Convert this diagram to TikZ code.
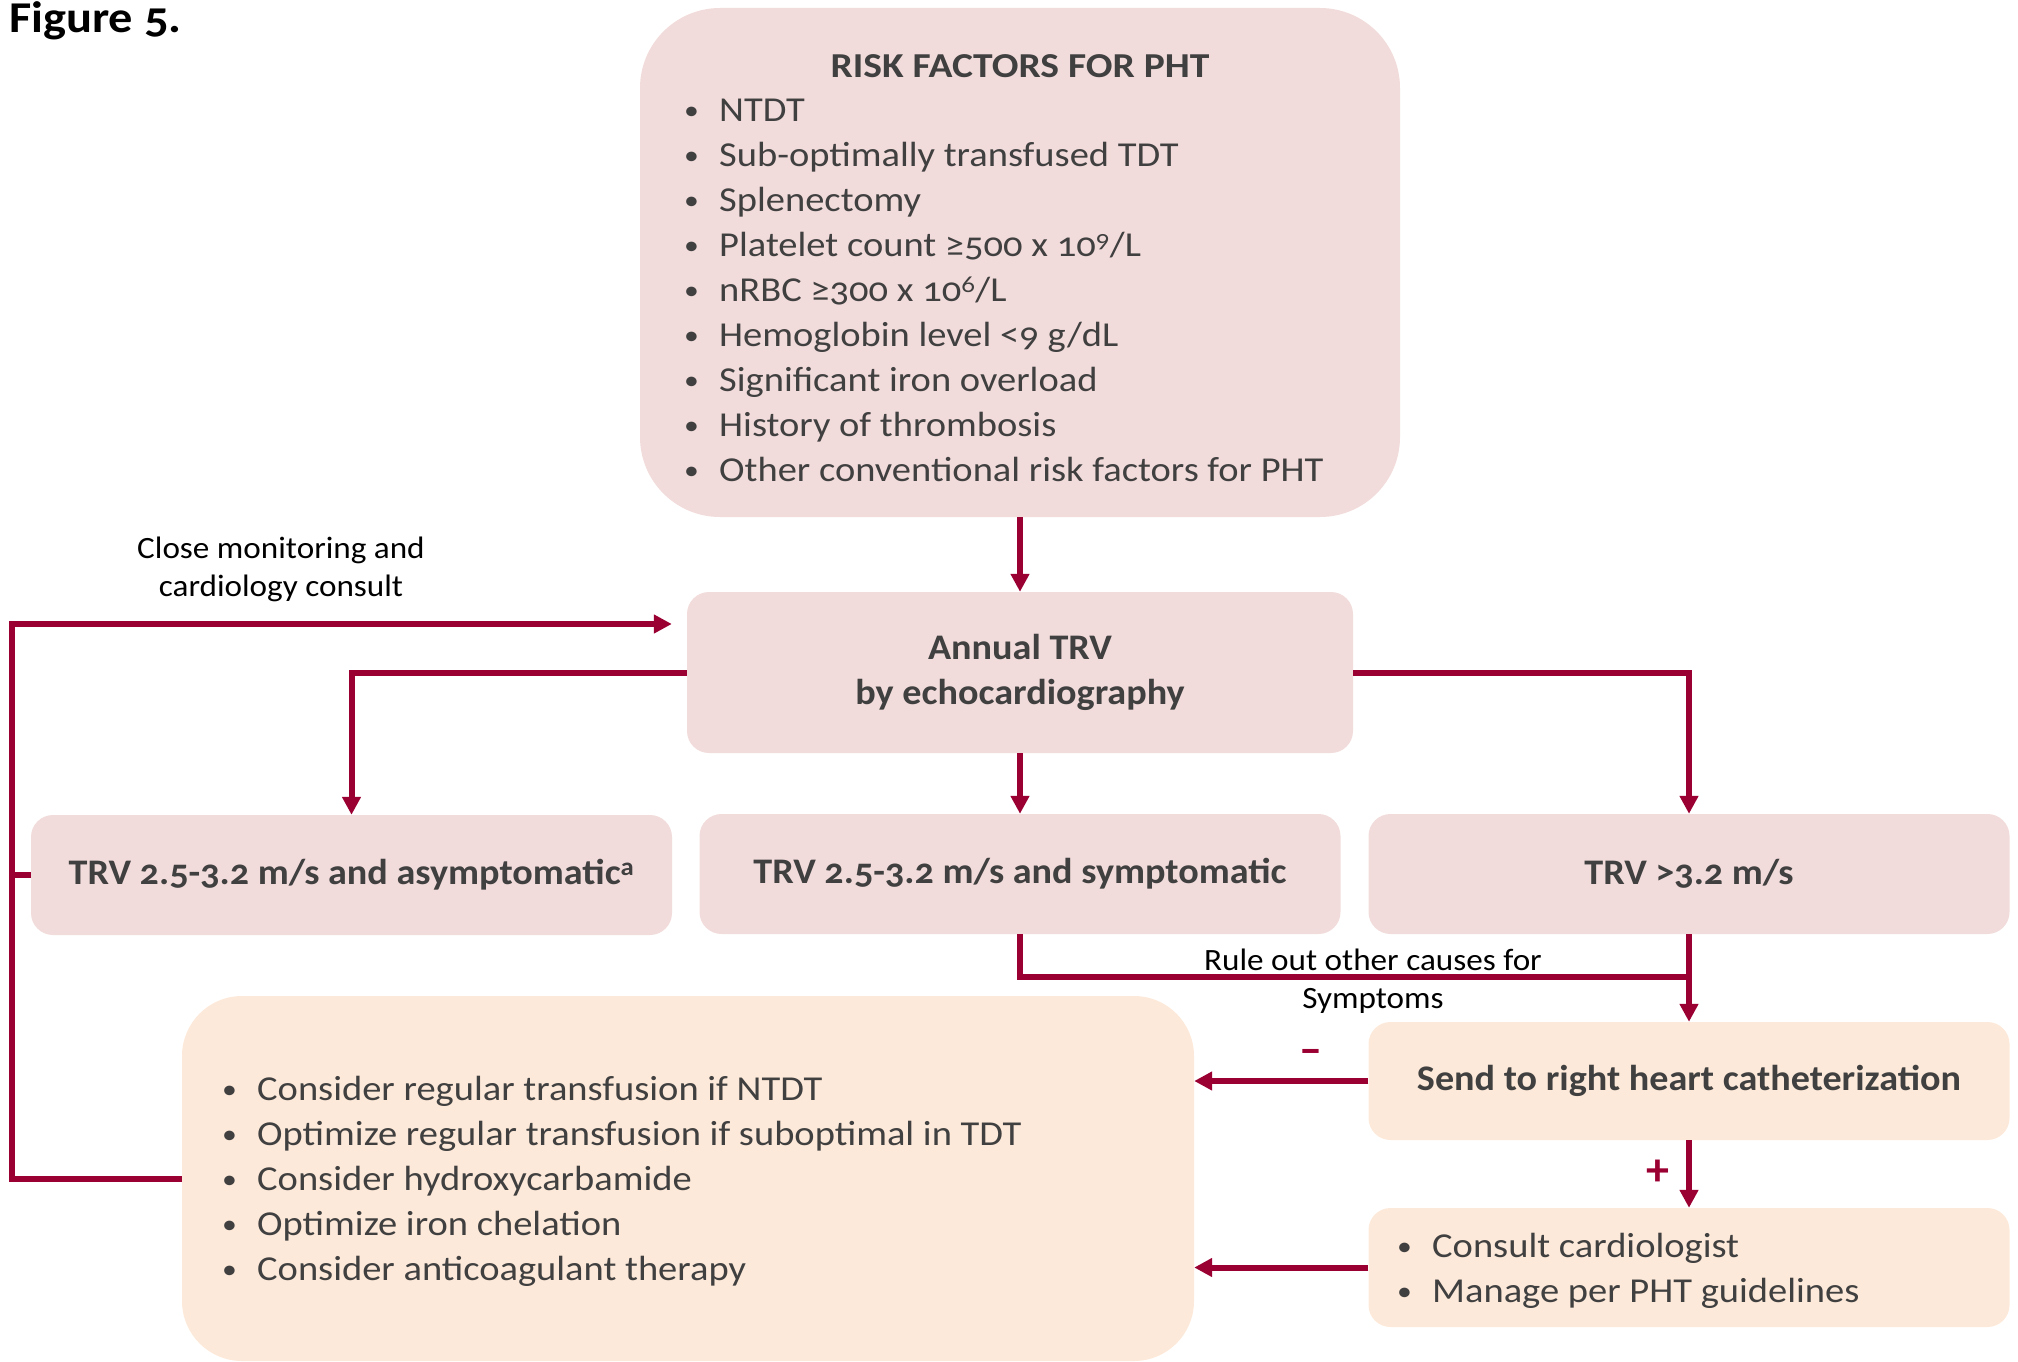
\documentclass[tikz,border=0pt]{standalone}
\usepackage{fontspec}
\setmainfont{Carlito}[Numbers=OldStyle]
\newfontfamily\itemfont{Carlito}[Numbers=OldStyle,FakeStretch=1.1]
\newfontfamily\boxfont{Carlito}[Numbers=OldStyle,FakeStretch=1.06]
\newfontfamily\titlefont{Carlito}[FakeStretch=1.13]
\newfontfamily\notefont{Carlito}[FakeStretch=1.07]
\usetikzlibrary{arrows.meta,positioning}

\definecolor{flowred}{RGB}{155,0,51}
\definecolor{boxpink}{RGB}{242,220,219}
\definecolor{boxpeach}{RGB}{253,233,217}
\definecolor{textgray}{RGB}{64,64,64}

\newcommand{\dotmark}{\raisebox{2pt}{\fontsize{27}{27}\selectfont •}}

\tikzset{
  pinkbox/.style={fill=boxpink, rounded corners=22pt, inner sep=0pt, text=textgray,
    font=\boxfont\fontsize{36}{45}\selectfont\bfseries, align=center},
  peachbox/.style={pinkbox, fill=boxpeach},
  flow/.style={draw=flowred, line width=6pt, -{Triangle[length=18pt,width=18pt]}},
  link/.style={draw=flowred, line width=6pt},
  itemtext/.style={text=textgray, font=\itemfont\fontsize{35}{45}\selectfont, inner sep=0pt, anchor=base west},
  note/.style={font=\notefont\fontsize{31}{38}\selectfont, align=center, inner sep=0pt},
  sign/.style={text=flowred, font=\fontsize{46}{46}\selectfont\bfseries, inner sep=0pt}
}

\begin{document}
\begin{tikzpicture}[x=1pt,y=-1pt]
\useasboundingbox (0,0) rectangle (2018,1362);

\node[anchor=base west, inner sep=0pt, font=\itemfont\fontsize{44}{50}\selectfont\bfseries] (figlabel) at (9,33) {Figure 5.};

% boxes
\node[pinkbox, rounded corners=80pt, minimum width=760pt, minimum height=509pt] (risk) at (1020,262.5) {};
\node[pinkbox, minimum width=666pt, minimum height=161pt] (annual) at (1020,672.5) {Annual TRV\\by echocardiography};
\node[pinkbox, minimum width=641pt, minimum height=120pt] (asym) at (351.5,875) {TRV 2.5-3.2 m/s and asymptomatic\textsuperscript{a}};
\node[pinkbox, minimum width=641pt, minimum height=120pt] (sympt) at (1020,874) {TRV 2.5-3.2 m/s and symptomatic};
\node[pinkbox, minimum width=641pt, minimum height=120pt] (trvhigh) at (1689,874) {TRV >3.2 m/s};
\node[peachbox, minimum width=641pt, minimum height=118pt] (send) at (1689,1081) {Send to right heart catheterization};
\node[peachbox, minimum width=641pt, minimum height=119pt] (consult) at (1689,1267.5) {};
\node[peachbox, rounded corners=60pt, minimum width=1012pt, minimum height=365pt] (plan) at (688,1178.5) {};

% box texts
\node[anchor=base, inner sep=0pt, text=textgray, font=\titlefont\fontsize{35}{45}\selectfont\bfseries] (risktitle) at (1020,78) {RISK FACTORS FOR PHT};
\foreach \txt [count=\i from 0] in {NTDT, Sub-optimally transfused TDT, Splenectomy,
    Platelet count ≥500 x 10\textsuperscript{9}/L, nRBC ≥300 x 10\textsuperscript{6}/L,
    Hemoglobin level <9 g/dL, Significant iron overload, History of thrombosis,
    Other conventional risk factors for PHT}
  \node[itemtext] (riskitem\i) at (684,{122+44.9*\i}) {\makebox[35pt][l]{\dotmark}\txt};
\foreach \txt [count=\i from 0] in {Consider regular transfusion if NTDT,
    Optimize regular transfusion if suboptimal in TDT, Consider hydroxycarbamide,
    Optimize iron chelation, Consider anticoagulant therapy}
  \node[itemtext] (planitem\i) at (222,{1100+45*\i}) {\makebox[35pt][l]{\dotmark}\txt};
\foreach \txt [count=\i from 0] in {Consult cardiologist, Manage per PHT guidelines}
  \node[itemtext] (consultitem\i) at (1397,{1257+45*\i}) {\makebox[35pt][l]{\dotmark}\txt};

% connectors
\draw[flow] (risk.south) -- (annual.north);
\draw[flow] (annual.west) -| (asym.north);
\draw[flow] (annual.south) -- (sympt.north);
\draw[flow] (annual.east) -| (trvhigh.north);
\coordinate (ruleout) at (trvhigh.south |- 0,977);
\draw[link] (sympt.south) |- (ruleout);
\draw[flow] (trvhigh.south) -- (send.north);
\draw[flow] (send.west) -- (send.west -| plan.east);
\draw[flow] (send.south) -- (consult.north);
\draw[flow] (consult.west) -- (consult.west -| plan.east);
\coordinate (loopcorner) at (12,624);
\coordinate (loopend) at ([xshift=-15pt]annual.west |- loopcorner);
\draw[flow] (plan.west) -| (loopcorner) -- (loopend);
\draw[link] (asym.west) -- (asym.west -| loopcorner);

% labels
\node[note] (monitor) at (281,569) {Close monitoring and\\cardiology consult};
\node[note] (ruletext) at (1373,981) {Rule out other causes for\\Symptoms};
\node[sign] (minus) at (1311,1057) {–};
\node[sign] (plus) at (1658,1173) {+};
\end{tikzpicture}
\end{document}
